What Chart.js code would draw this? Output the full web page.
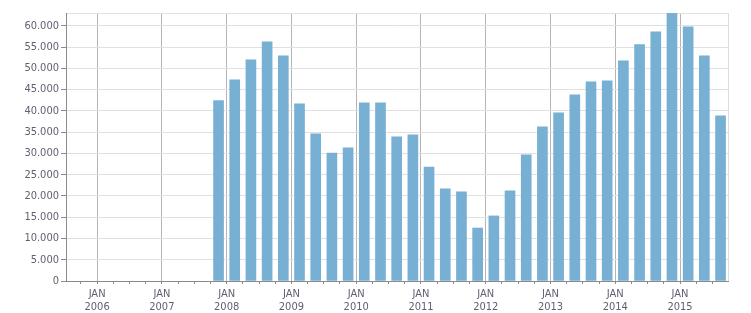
<!DOCTYPE html>
<html>
<head>
<meta charset="utf-8">
<script src="https://cdn.jsdelivr.net/npm/chart.js@4.4.1/dist/chart.umd.min.js"></script>
<style>
  html, body { margin: 0; padding: 0; background: #fff; }
  #wrap { width: 751px; height: 313px; }
</style>
</head>
<body>
<div id="wrap"><canvas id="graf"></canvas></div>
<script>
const quarters = [
  '2007 Q4',
  '2008 Q1', '2008 Q2', '2008 Q3', '2008 Q4',
  '2009 Q1', '2009 Q2', '2009 Q3', '2009 Q4',
  '2010 Q1', '2010 Q2', '2010 Q3', '2010 Q4',
  '2011 Q1', '2011 Q2', '2011 Q3', '2011 Q4',
  '2012 Q1', '2012 Q2', '2012 Q3', '2012 Q4',
  '2013 Q1', '2013 Q2', '2013 Q3', '2013 Q4',
  '2014 Q1', '2014 Q2', '2014 Q3', '2014 Q4',
  '2015 Q1', '2015 Q2', '2015 Q3',
];
const values = [
  42400,
  47300, 52000, 56250, 52950,
  41650, 34600, 30100, 31300,
  41900, 41900, 33900, 34350,
  26800, 21650, 20950, 12450,
  15300, 21200, 29650, 36250,
  39550, 43750, 46800, 47050,
  51750, 55550, 58600, 62900,
  59750, 52950, 38800,
];
const monthLabel = 'JAN';
const yTicks = [0, 5000, 10000, 15000, 20000, 25000, 30000, 35000, 40000, 45000, 50000, 55000, 60000];
const yMax = 63000;
const xMin = 2005.52;
const xMax = 2015.74;

// quarter -> decimal year at middle of quarter
const points = quarters.map((q, i) => {
  const [yr, qq] = q.split(' Q');
  return { x: Number(yr) + (Number(qq) - 1) / 4 + 0.125, y: values[i] };
});

const fmt = (v) => String(v).replace(/\B(?=(\d{3})+(?!\d))/g, '.');
const font = { family: "'DejaVu Sans Condensed', 'DejaVu Sans', sans-serif", size: 11, lineHeight: 1.15 };
const txt = '#5f5f72';
const none = 'rgba(0,0,0,0)';

const ctx = document.getElementById('graf').getContext('2d');

const config = {
  type: 'bar',
  data: {
    datasets: [
      {
        data: points,
        backgroundColor: '#77b0d3',
        borderWidth: 0,
        barThickness: 10,
      },
    ],
  },
  options: {
    responsive: true,
    maintainAspectRatio: false,
    animation: false,
    layout: { padding: { top: 13, right: 23, bottom: 0, left: 0 } },
    plugins: { legend: { display: false }, tooltip: { enabled: false } },
    scales: {
      x: {
        type: 'linear',
        min: xMin,
        max: xMax,
        offset: false,
        afterBuildTicks: (scale) => {
          let t = [{ value: xMin }];
          for (let v = 2005.75; v < xMax; v += 0.25) t.push({ value: v });
          t.push({ value: xMax });
          scale.ticks = t;
        },
        afterFit: (scale) => { scale.height = 32; },
        border: { color: '#8a8a8a' },
        grid: {
          offset: false,
          color: (c) => {
            const v = c.tick ? c.tick.value : 0;
            if (v === xMax) return '#dddddd';
            return Number.isInteger(v) ? '#b4b4b4' : none;
          },
          tickColor: (c) => {
            const v = c.tick ? c.tick.value : 0;
            return v === xMin || v === xMax ? none : '#8a8a8a';
          },
          tickLength: 3,
        },
        ticks: {
          autoSkip: false,
          maxRotation: 0,
          padding: 4,
          color: txt,
          font: font,
          callback: (v) => (Number.isInteger(v) ? [monthLabel, String(v)] : ''),
        },
      },
      y: {
        min: 0,
        max: yMax,
        afterBuildTicks: (scale) => {
          scale.ticks = yTicks.map((v) => ({ value: v })).concat([{ value: yMax }]);
        },
        afterFit: (scale) => { scale.width = 66; },
        border: { color: '#8a8a8a' },
        grid: {
          color: '#e0e0e0',
          tickColor: (c) => (c.tick && c.tick.value === yMax ? none : '#8a8a8a'),
          tickLength: 5,
        },
        ticks: {
          padding: 2,
          color: txt,
          font: font,
          callback: (v) => (v === yMax ? '' : fmt(v)),
        },
      },
    },
  },
};

const myChart = new Chart(ctx, config);
</script>
</body>
</html>
